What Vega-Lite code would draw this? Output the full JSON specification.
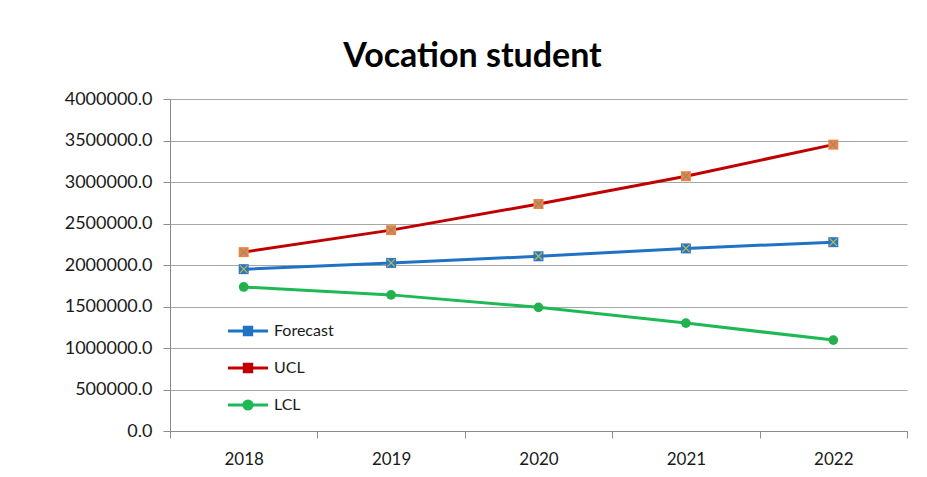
{
  "$schema": "https://vega.github.io/schema/vega-lite/v6.json",
  "width": 737,
  "height": 332,
  "autosize": "none",
  "padding": {"left": 170, "top": 99, "right": 20, "bottom": 46},
  "background": "white",
  "title": {
    "text": "Vocation student",
    "font": "Lato",
    "fontSize": 34,
    "fontWeight": "bold",
    "color": "#000000",
    "anchor": "middle",
    "frame": "group",
    "dx": -66,
    "dy": 43,
    "baseline": "bottom",
    "offset": 25
  },
  "config": {
    "view": {"stroke": null},
    "font": "Lato"
  },
  "data": {
    "values": [
      {"year": "2018", "series": "Forecast", "value": 1950000},
      {"year": "2019", "series": "Forecast", "value": 2025000},
      {"year": "2020", "series": "Forecast", "value": 2105000},
      {"year": "2021", "series": "Forecast", "value": 2200000},
      {"year": "2022", "series": "Forecast", "value": 2275000},
      {"year": "2018", "series": "UCL", "value": 2155000},
      {"year": "2019", "series": "UCL", "value": 2420000},
      {"year": "2020", "series": "UCL", "value": 2735000},
      {"year": "2021", "series": "UCL", "value": 3070000},
      {"year": "2022", "series": "UCL", "value": 3450000},
      {"year": "2018", "series": "LCL", "value": 1735000},
      {"year": "2019", "series": "LCL", "value": 1640000},
      {"year": "2020", "series": "LCL", "value": 1490000},
      {"year": "2021", "series": "LCL", "value": 1300000},
      {"year": "2022", "series": "LCL", "value": 1095000}
    ]
  },
  "encoding": {
    "x": {
      "field": "year",
      "type": "ordinal",
      "scale": {"type": "band", "paddingInner": 0, "paddingOuter": 0},
      "axis": {
        "title": null,
        "labelAngle": 0,
        "tickBand": "extent",
        "tickSize": 7,
        "tickColor": "#8c8c8c",
        "domainColor": "#8c8c8c",
        "labelFont": "Lato",
        "labelFontSize": 17,
        "labelColor": "#1a1a1a",
        "labelPadding": 13,
        "grid": false
      }
    },
    "y": {
      "field": "value",
      "type": "quantitative",
      "scale": {"domain": [0, 4000000], "nice": false},
      "axis": {
        "title": null,
        "values": [0, 500000, 1000000, 1500000, 2000000, 2500000, 3000000, 3500000, 4000000],
        "format": ".1f",
        "grid": true,
        "gridColor": "#a6a6a6",
        "tickSize": 7,
        "tickColor": "#8c8c8c",
        "domainColor": "#8c8c8c",
        "labelFont": "Lato",
        "labelFontSize": 18,
        "labelColor": "#1a1a1a",
        "labelPadding": 11
      }
    }
  },
  "layer": [
    {
      "mark": {"type": "line", "strokeWidth": 3},
      "encoding": {
        "stroke": {
          "field": "series",
          "type": "nominal",
          "scale": {"domain": ["Forecast", "UCL", "LCL"], "range": ["#1f72c4", "#c00000", "#1db954"]},
          "legend": {
            "orient": "none",
            "legendX": 58,
            "legendY": 212,
            "title": null,
            "padding": 0,
            "rowPadding": 7,
            "labelFont": "Lato",
            "labelFontSize": 16,
            "labelColor": "#1a1a1a",
            "labelOffset": 6,
            "symbolSize": 1369,
            "symbolStrokeWidth": 3,
            "symbolOpacity": 1
          }
        }
      }
    },
    {
      "transform": [{"filter": "datum.series !== 'LCL'"}],
      "mark": {"type": "point", "shape": "square", "filled": true, "size": 100, "opacity": 1, "strokeWidth": 0},
      "encoding": {
        "fill": {
          "field": "series",
          "type": "nominal",
          "scale": {"domain": ["Forecast", "UCL", "LCL"], "range": ["#2e75c6", "#f0843c", "#22b14c"]},
          "legend": null
        }
      }
    },
    {
      "transform": [{"filter": "datum.series !== 'LCL'"}],
      "mark": {"type": "point", "shape": "M-0.75,-0.75L0.75,0.75M0.75,-0.75L-0.75,0.75", "filled": false, "size": 100, "opacity": 1, "strokeWidth": 1.2},
      "encoding": {
        "stroke": {"condition": {"test": "datum.series === 'UCL'", "value": "#8a8a8a"}, "value": "#b9c13a"}
      }
    },
    {
      "transform": [{"filter": "datum.series === 'LCL'"}],
      "mark": {"type": "point", "shape": "circle", "filled": true, "size": 95, "opacity": 1, "strokeWidth": 0},
      "encoding": {
        "fill": {"field": "series", "type": "nominal", "legend": null}
      }
    },
    {
      "mark": {"type": "point", "filled": true, "opacity": 0},
      "encoding": {
        "stroke": {"field": "series", "type": "nominal"},
        "fill": {"field": "series", "type": "nominal"},
        "shape": {
          "field": "series",
          "type": "nominal",
          "scale": {
            "domain": ["Forecast", "UCL", "LCL"],
            "range": [
              "M-1.08,0H1.08M-0.2,-0.2H0.2V0.2H-0.2ZM-0.1,-0.1H0.1V0.1H-0.1Z",
              "M-1.08,0H1.08M-0.2,-0.2H0.2V0.2H-0.2ZM-0.1,-0.1H0.1V0.1H-0.1Z",
              "M-1.08,0H1.08M0.22,0A0.22,0.22,0,1,1,-0.22,0A0.22,0.22,0,1,1,0.22,0ZM0.1,0A0.1,0.1,0,1,1,-0.1,0A0.1,0.1,0,1,1,0.1,0ZM0,-0.2V0.2"
            ]
          }
        }
      }
    }
  ]
}
